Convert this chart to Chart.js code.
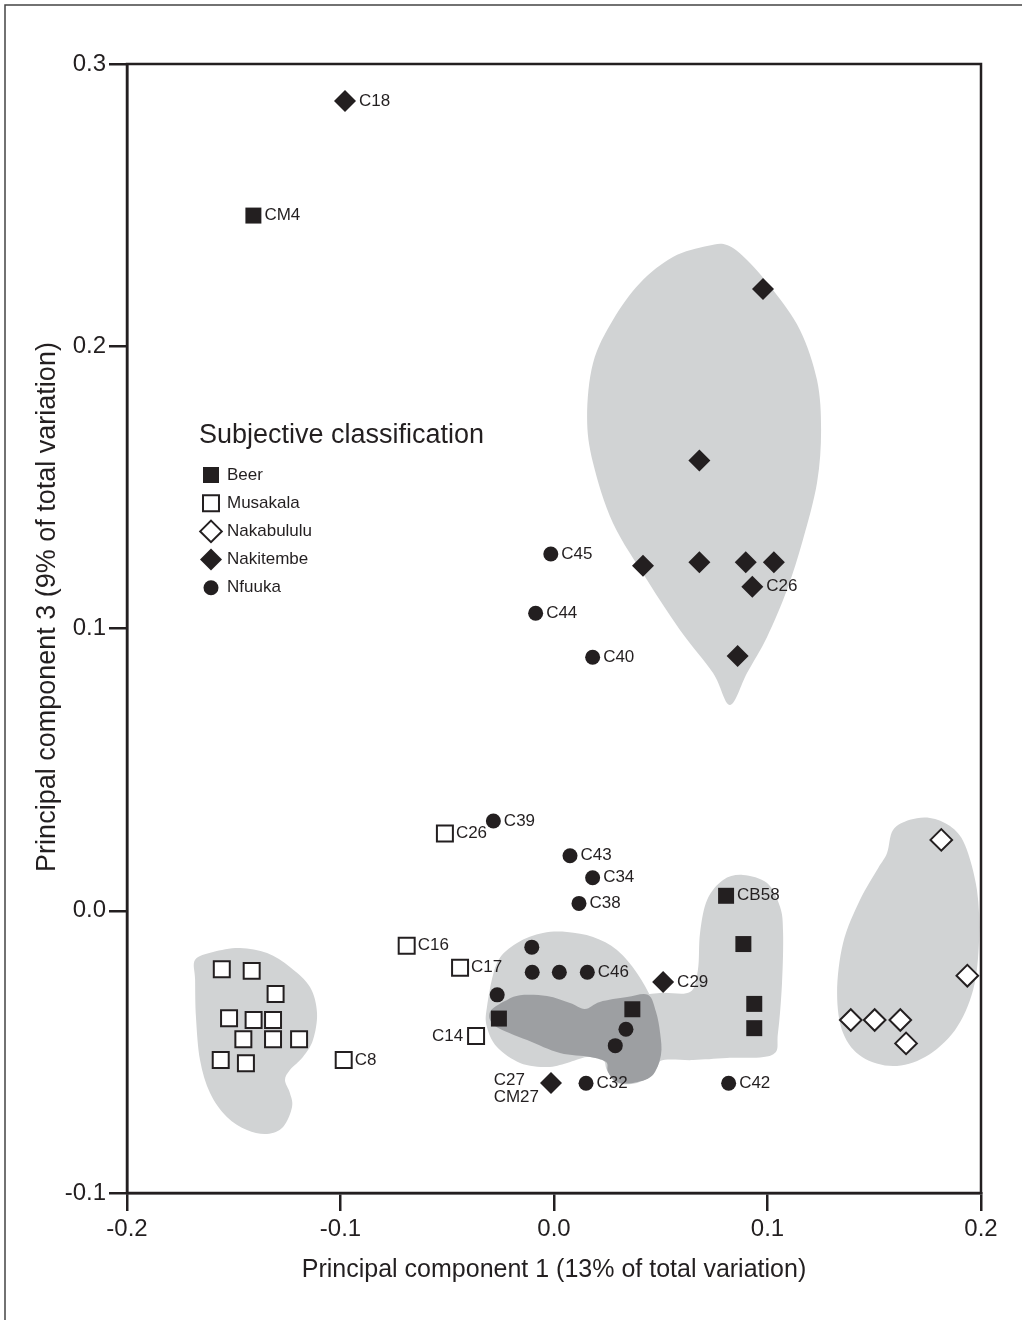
<!DOCTYPE html>
<html>
<head>
<meta charset="utf-8">
<script src="https://cdn.jsdelivr.net/npm/chart.js@4.4.1/dist/chart.umd.min.js"></script>
<style>
  html, body { margin: 0; padding: 0; background: #fff; }
</style>
</head>
<body>
<canvas id="pca" width="1022" height="1320"></canvas>
<script>
// PCA scores: x = principal component 1, y = principal component 3
var beerX = [-0.1408, 0.0806, 0.0887, 0.0938, 0.0938, 0.0367, -0.0258];
var beerY = [0.2463, 0.0053, -0.0118, -0.0330, -0.0416, -0.0349, -0.0382];
var beerLabels = ['CM4', 'CB58', '', '', '', '', ''];

var musakalaX = [-0.0511, -0.0690, -0.0440, -0.0365, -0.0985, -0.1556, -0.1416, -0.1304, -0.1522, -0.1407, -0.1316, -0.1455, -0.1316, -0.1194, -0.1561, -0.1443];
var musakalaY = [0.0274, -0.0124, -0.0202, -0.0444, -0.0529, -0.0207, -0.0213, -0.0295, -0.0381, -0.0387, -0.0387, -0.0455, -0.0455, -0.0455, -0.0529, -0.0540];
var musakalaLabels = ['C26', 'C16', 'C17', 'C14', 'C8', '', '', '', '', '', '', '', '', '', '', ''];

var nakabululuX = [0.1814, 0.1936, 0.1390, 0.1502, 0.1622, 0.1649];
var nakabululuY = [0.0251, -0.0230, -0.0387, -0.0387, -0.0387, -0.0470];
var nakabululuLabels = ['', '', '', '', '', ''];

var nakitembeX = [-0.0979, 0.0979, 0.0681, 0.0417, 0.0681, 0.0898, 0.1030, 0.0929, 0.0860, 0.0511, -0.0014];
var nakitembeY = [0.2869, 0.2203, 0.1595, 0.1222, 0.1235, 0.1235, 0.1235, 0.1148, 0.0903, -0.0252, -0.0610];
var nakitembeLabels = ['C18', '', '', '', '', '', '', 'C26', '', 'C29', 'C27\nCM27'];

var nfuukaX = [-0.0015, -0.0086, 0.0181, -0.0284, 0.0075, 0.0181, 0.0117, -0.0104, -0.0102, 0.0025, 0.0156, -0.0266, 0.0337, 0.0287, 0.0150, 0.0818];
var nfuukaY = [0.1264, 0.1054, 0.0898, 0.0318, 0.0195, 0.0117, 0.0026, -0.0129, -0.0218, -0.0218, -0.0218, -0.0298, -0.0420, -0.0478, -0.0611, -0.0611];
var nfuukaLabels = ['C45', 'C44', 'C40', 'C39', 'C43', 'C34', 'C38', '', '', '', 'C46', '', '', '', 'C32', 'C42'];

// labels written on the left of their marker
var labelsOnLeft = ['C14', 'C27\nCM27'];

// shaded group outlines (data units)
var musakalaHull = [[-0.1681,-0.0174],[-0.1597,-0.0146],[-0.1471,-0.0132],[-0.1344,-0.0150],[-0.1237,-0.0199],[-0.1143,-0.0270],[-0.1110,-0.0362],[-0.1129,-0.0458],[-0.1176,-0.0518],[-0.1237,-0.0564],[-0.1260,-0.0600],[-0.1237,-0.0646],[-0.1227,-0.0695],[-0.1269,-0.0766],[-0.1344,-0.0791],[-0.1438,-0.0777],[-0.1532,-0.0731],[-0.1611,-0.0646],[-0.1658,-0.0529],[-0.1677,-0.0376],[-0.1681,-0.0245]];
var nakitembeHull = [[0.0810,0.2359],[0.0904,0.2306],[0.1026,0.2199],[0.1152,0.2058],[0.1232,0.1880],[0.1251,0.1703],[0.1232,0.1516],[0.1166,0.1314],[0.1091,0.1136],[0.0998,0.0970],[0.0904,0.0842],[0.0824,0.0729],[0.0745,0.0842],[0.0590,0.0995],[0.0436,0.1172],[0.0276,0.1374],[0.0183,0.1586],[0.0155,0.1749],[0.0183,0.1941],[0.0276,0.2093],[0.0403,0.2224],[0.0557,0.2316],[0.0717,0.2355]];
var nfuukaHull = [[-0.0314,-0.0341],[-0.0267,-0.0185],[-0.0173,-0.0114],[-0.0052,-0.0079],[0.0061,-0.0075],[0.0183,-0.0093],[0.0295,-0.0139],[0.0389,-0.0221],[0.0459,-0.0316],[0.0497,-0.0412],[0.0506,-0.0504],[0.0464,-0.0575],[0.0389,-0.0610],[0.0295,-0.0610],[0.0248,-0.0564],[0.0230,-0.0529],[0.0155,-0.0518],[0.0061,-0.0539],[-0.0033,-0.0554],[-0.0159,-0.0539],[-0.0267,-0.0483],[-0.0314,-0.0412]];
var beerHull = [[-0.0300,-0.0359],[-0.0230,-0.0320],[-0.0159,-0.0299],[-0.0033,-0.0302],[0.0075,-0.0327],[0.0145,-0.0348],[0.0215,-0.0323],[0.0342,-0.0306],[0.0497,-0.0291],[0.0637,-0.0288],[0.0674,-0.0210],[0.0684,-0.0079],[0.0717,0.0038],[0.0792,0.0109],[0.0885,0.0127],[0.0998,0.0098],[0.1059,0.0013],[0.1073,-0.0079],[0.1068,-0.0256],[0.1049,-0.0433],[0.1021,-0.0511],[0.0810,-0.0522],[0.0651,-0.0529],[0.0497,-0.0532],[0.0459,-0.0585],[0.0370,-0.0610],[0.0295,-0.0607],[0.0253,-0.0571],[0.0244,-0.0536],[0.0169,-0.0518],[0.0028,-0.0504],[-0.0126,-0.0458],[-0.0276,-0.0408]];
var overlapHull = [[-0.0300,-0.0359],[-0.0230,-0.0320],[-0.0159,-0.0299],[-0.0033,-0.0302],[0.0075,-0.0327],[0.0145,-0.0348],[0.0215,-0.0323],[0.0342,-0.0306],[0.0440,-0.0298],[0.0478,-0.0359],[0.0497,-0.0433],[0.0501,-0.0511],[0.0459,-0.0585],[0.0370,-0.0610],[0.0295,-0.0607],[0.0253,-0.0571],[0.0244,-0.0536],[0.0169,-0.0518],[0.0028,-0.0504],[-0.0126,-0.0458],[-0.0276,-0.0408]];
var nakabululuHull = [[0.1560,0.0205],[0.1588,0.0286],[0.1667,0.0322],[0.1761,0.0329],[0.1855,0.0300],[0.1925,0.0233],[0.1981,0.0074],[0.1991,-0.0104],[0.1963,-0.0281],[0.1878,-0.0423],[0.1738,-0.0518],[0.1588,-0.0550],[0.1443,-0.0518],[0.1354,-0.0433],[0.1326,-0.0291],[0.1354,-0.0114],[0.1433,0.0038],[0.1518,0.0151]];

var xTicks = [-0.2, -0.1, 0.0, 0.1, 0.2];
var yTicks = [-0.1, 0.0, 0.1, 0.2, 0.3];
var yTitle = 'Principal component 3 (9% of total variation)';

var ink = '#231f20';
var light = '#d1d3d4';
var dark = '#9d9fa2';
var fam = '"Liberation Sans", Arial, Helvetica, sans-serif';

function pts(xs, ys, labels) {
  return xs.map(function (x, i) { return {x: x, y: ys[i], label: labels[i]}; });
}

var groups = [
  {label: 'Beer', data: pts(beerX, beerY, beerLabels), pointStyle: 'rect', pointRadius: 11.3, backgroundColor: ink, borderColor: ink, borderWidth: 0},
  {label: 'Musakala', data: pts(musakalaX, musakalaY, musakalaLabels), pointStyle: 'rect', pointRadius: 11.3, backgroundColor: '#fff', borderColor: ink, borderWidth: 2},
  {label: 'Nakabululu', data: pts(nakabululuX, nakabululuY, nakabululuLabels), pointStyle: 'rectRot', pointRadius: 10.8, backgroundColor: '#fff', borderColor: ink, borderWidth: 2},
  {label: 'Nakitembe', data: pts(nakitembeX, nakitembeY, nakitembeLabels), pointStyle: 'rectRot', pointRadius: 11, backgroundColor: ink, borderColor: ink, borderWidth: 0},
  {label: 'Nfuuka', data: pts(nfuukaX, nfuukaY, nfuukaLabels), pointStyle: 'circle', pointRadius: 7.5, backgroundColor: ink, borderColor: ink, borderWidth: 0}
];

function smoothClosed(ctx, p) {
  var n = p.length;
  ctx.beginPath();
  ctx.moveTo(p[0][0], p[0][1]);
  for (var i = 0; i < n; i++) {
    var p0 = p[(i - 1 + n) % n], p1 = p[i], p2 = p[(i + 1) % n], p3 = p[(i + 2) % n];
    ctx.bezierCurveTo(p1[0] + (p2[0] - p0[0]) / 6, p1[1] + (p2[1] - p0[1]) / 6,
                      p2[0] - (p3[0] - p1[0]) / 6, p2[1] - (p3[1] - p1[1]) / 6,
                      p2[0], p2[1]);
  }
  ctx.closePath();
}

function markerHalf(style, r) {
  return style === 'rect' ? r * Math.SQRT1_2 : r;
}

function drawMarker(ctx, style, x, y, r, fill, stroke, lw) {
  ctx.beginPath();
  if (style === 'circle') {
    ctx.arc(x, y, r, 0, Math.PI * 2);
  } else if (style === 'rect') {
    var s = r * Math.SQRT1_2;
    ctx.rect(x - s, y - s, 2 * s, 2 * s);
  } else {
    ctx.moveTo(x - r, y); ctx.lineTo(x, y - r); ctx.lineTo(x + r, y); ctx.lineTo(x, y + r);
    ctx.closePath();
  }
  ctx.fillStyle = fill;
  ctx.fill();
  if (lw) { ctx.lineWidth = lw; ctx.strokeStyle = stroke; ctx.stroke(); }
}

var decor = {
  id: 'decor',
  beforeDraw: function (chart) {
    var ctx = chart.ctx;
    ctx.save();
    ctx.fillStyle = '#fff';
    ctx.fillRect(0, 0, chart.width, chart.height);
    ctx.strokeStyle = '#444';
    ctx.lineWidth = 1.5;
    ctx.beginPath();
    ctx.moveTo(5, chart.height); ctx.lineTo(5, 5); ctx.lineTo(chart.width, 5);
    ctx.stroke();
    // y axis title, sits a little above the axis centre in the original
    ctx.translate(48, 607);
    ctx.rotate(-Math.PI / 2);
    ctx.font = '27px ' + fam;
    ctx.fillStyle = ink;
    ctx.textAlign = 'center';
    ctx.textBaseline = 'middle';
    ctx.fillText(yTitle, 0, 0);
    ctx.restore();
  },
  beforeDatasetsDraw: function (chart) {
    var ctx = chart.ctx, sx = chart.scales.x, sy = chart.scales.y;
    function toPx(h) { return h.map(function (q) { return [sx.getPixelForValue(q[0]), sy.getPixelForValue(q[1])]; }); }
    var shapes = [[musakalaHull, light], [nakitembeHull, light], [nfuukaHull, light], [beerHull, light], [overlapHull, dark], [nakabululuHull, light]];
    ctx.save();
    shapes.forEach(function (s) {
      smoothClosed(ctx, toPx(s[0]));
      ctx.fillStyle = s[1];
      ctx.fill();
    });
    ctx.restore();
  },
  afterDatasetsDraw: function (chart) {
    var ctx = chart.ctx, a = chart.chartArea;
    ctx.save();
    // plot box
    ctx.strokeStyle = ink;
    ctx.lineWidth = 2.5;
    ctx.strokeRect(a.left, a.top, a.right - a.left, a.bottom - a.top);

    // point labels
    ctx.fillStyle = ink;
    ctx.font = '17px ' + fam;
    ctx.textBaseline = 'middle';
    chart.data.datasets.forEach(function (ds, di) {
      var meta = chart.getDatasetMeta(di);
      var half = markerHalf(ds.pointStyle, ds.pointRadius);
      ds.data.forEach(function (d, i) {
        if (!d.label) return;
        var el = meta.data[i];
        var lines = d.label.split('\n');
        if (labelsOnLeft.indexOf(d.label) >= 0) {
          if (lines.length > 1) {
            ctx.textAlign = 'left';
            var w = Math.max.apply(null, lines.map(function (t) { return ctx.measureText(t).width; }));
            lines.forEach(function (t, k) {
              ctx.fillText(t, el.x - half - 1 - w, el.y - 3 + k * 17);
            });
          } else {
            ctx.textAlign = 'right';
            ctx.fillText(d.label, el.x - half - 5, el.y);
          }
        } else {
          ctx.textAlign = 'left';
          ctx.fillText(d.label, el.x + half + 3, el.y);
        }
      });
    });

    // legend
    ctx.textAlign = 'left';
    ctx.font = '27px ' + fam;
    ctx.fillText('Subjective classification', 199, 436);
    ctx.font = '17px ' + fam;
    chart.data.datasets.forEach(function (ds, di) {
      var y = 475 + di * 28.2;
      drawMarker(ctx, ds.pointStyle, 211, y, ds.pointRadius, ds.backgroundColor, ds.borderColor, ds.borderWidth);
      ctx.fillStyle = ink;
      ctx.fillText(ds.label, 227, y);
    });
    ctx.restore();
  }
};

new Chart(document.getElementById('pca'), {
  type: 'scatter',
  data: {datasets: groups},
  plugins: [decor],
  options: {
    responsive: false,
    animation: false,
    devicePixelRatio: 1,
    layout: {padding: {left: 0, top: 64, right: 41, bottom: 0}},
    plugins: {legend: {display: false}, tooltip: {enabled: false}},
    scales: {
      x: {
        type: 'linear', min: -0.2, max: 0.2,
        afterBuildTicks: function (s) { s.ticks = xTicks.map(function (v) { return {value: v}; }); },
        afterFit: function (s) { s.height = 127; },
        ticks: {callback: function (v) { return v.toFixed(1); }, font: {family: fam, size: 24}, color: ink, padding: 4, maxRotation: 0},
        grid: {drawOnChartArea: false, tickLength: 18, tickColor: ink, lineWidth: 2.5},
        border: {color: ink, width: 2.5},
        title: {display: true, text: 'Principal component 1 (13% of total variation)', font: {family: fam, size: 25}, color: ink, padding: {top: 0, bottom: 35}}
      },
      y: {
        type: 'linear', min: -0.1, max: 0.3,
        afterBuildTicks: function (s) { s.ticks = yTicks.map(function (v) { return {value: v}; }); },
        afterFit: function (s) { s.width = 127; },
        ticks: {callback: function (v) { return v.toFixed(1); }, font: {family: fam, size: 24}, color: ink, padding: 3},
        grid: {drawOnChartArea: false, tickLength: 18, tickColor: ink, lineWidth: 2.5},
        border: {color: ink, width: 2.5}
      }
    }
  }
});
</script>
</body>
</html>
